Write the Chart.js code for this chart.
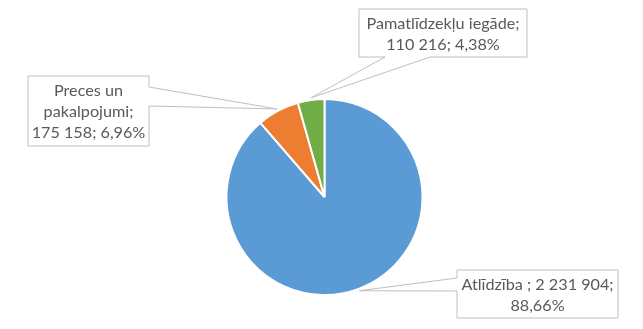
<!DOCTYPE html>
<html><head><meta charset="utf-8">
<script src="https://cdn.jsdelivr.net/npm/chart.js@4/dist/chart.umd.min.js"></script>
<style>html,body{margin:0;padding:0;background:#fff}#wrap{width:643px;height:329px}</style>
</head><body><div id="wrap"><canvas id="c" width="643" height="329"></canvas></div>
<script>
const categories = ["Atlīdzība ", "Preces un pakalpojumi", "Pamatlīdzekļu iegāde"];
const values = [2231904, 175158, 110216];
const colors = ["#5B9BD5", "#ED7D31", "#70AD47"];
// callout label boxes (layout only): box rect, pointer side, notch offsets along that side
const calloutBoxes = [
  {x:457, y:270, w:161, h:48, side:'left',   n1:8,  n2:21},
  {x:28,  y:76,  w:121, h:70, side:'right',  n1:11, n2:30},
  {x:359, y:9,   w:168, h:48, side:'bottom', n1:26, n2:71}
];

const total = values.reduce((a,b)=>a+b,0);
function fmtNum(v){ return String(v).replace(/\B(?=(\d{3})+(?!\d))/g, '\u00A0'); }
function fmtPct(v){ return (v/total*100).toFixed(2).replace('.', ',') + '%'; }
const labelTexts = values.map((v,i)=> categories[i] + '; ' + fmtNum(v) + '; ' + fmtPct(v));

const FONT = '16.2px Lato, "Open Sans", sans-serif';

function wrap(ctx, text, maxW){
  const words = text.split(' ');
  const lines = [];
  let cur = '';
  for (const w of words){
    const t = cur ? cur + ' ' + w : w;
    if (cur && ctx.measureText(t).width > maxW){ lines.push(cur); cur = w; }
    else cur = t;
  }
  if (cur) lines.push(cur);
  return lines;
}

const calloutPlugin = {
  id: 'callouts',
  afterDatasetsDraw(chart){
    const ctx = chart.ctx;
    const meta = chart.getDatasetMeta(0);
    ctx.save();
    ctx.font = FONT;
    meta.data.forEach((arc, i) => {
      const b = calloutBoxes[i];
      const p = arc.getProps(['x','y','startAngle','endAngle','outerRadius'], true);
      const mid = (p.startAngle + p.endAngle)/2;
      const tx = p.x + Math.cos(mid)*(p.outerRadius+2);
      const ty = p.y + Math.sin(mid)*(p.outerRadius+2);
      const L = b.x, T = b.y, R = b.x + b.w, B = b.y + b.h;
      ctx.beginPath();
      ctx.moveTo(L, T);
      ctx.lineTo(R, T);
      if (b.side === 'right'){ ctx.lineTo(R, T+b.n1); ctx.lineTo(tx, ty); ctx.lineTo(R, T+b.n2); }
      ctx.lineTo(R, B);
      if (b.side === 'bottom'){ ctx.lineTo(L+b.n2, B); ctx.lineTo(tx, ty); ctx.lineTo(L+b.n1, B); }
      ctx.lineTo(L, B);
      if (b.side === 'left'){ ctx.lineTo(L, T+b.n2); ctx.lineTo(tx, ty); ctx.lineTo(L, T+b.n1); }
      ctx.closePath();
      ctx.fillStyle = '#ffffff';
      ctx.fill();
      ctx.strokeStyle = '#BFBFBF';
      ctx.lineWidth = 1;
      ctx.stroke();
      const lines = wrap(ctx, labelTexts[i], b.w - 4);
      const lh = 21;
      ctx.fillStyle = '#595959';
      ctx.textAlign = 'center';
      ctx.textBaseline = 'middle';
      const cy = T + b.h/2;
      lines.forEach((ln, k) => {
        ctx.fillText(ln, L + b.w/2, cy + (k - (lines.length-1)/2)*lh + 1);
      });
    });
    ctx.restore();
  }
};

new Chart(document.getElementById('c'), {
  type: 'pie',
  data: {
    labels: categories,
    datasets: [{
      data: values,
      backgroundColor: colors,
      borderColor: '#ffffff',
      borderWidth: 2
    }]
  },
  options: {
    responsive: false,
    animation: false,
    devicePixelRatio: 1,
    layout: { padding: { top: 98, bottom: 33, left: 6, right: 0 } },
    plugins: { legend: { display: false }, tooltip: { enabled: false } }
  },
  plugins: [calloutPlugin]
});
</script>
</body></html>
